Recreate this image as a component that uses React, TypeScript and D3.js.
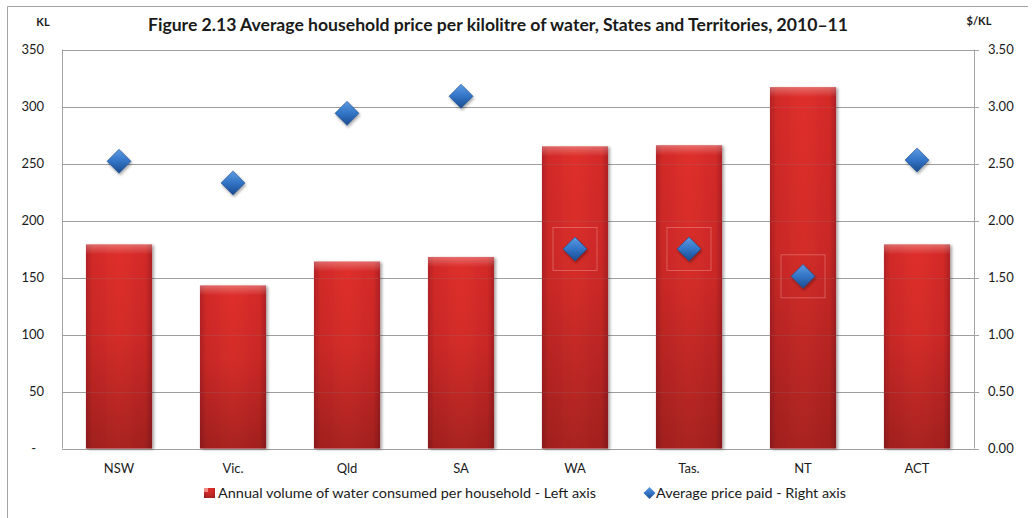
import React from 'react';
import * as d3 from 'd3';

const categories = ['NSW', 'Vic.', 'Qld', 'SA', 'WA', 'Tas.', 'NT', 'ACT'];
const volumeKL = [179, 143, 164, 168, 265, 266, 317, 179];
const pricePerKL = [2.52, 2.33, 2.94, 3.09, 1.75, 1.75, 1.51, 2.53];
const leftTicks = [0, 50, 100, 150, 200, 250, 300, 350];
const rightTicks = [0, 0.5, 1, 1.5, 2, 2.5, 3, 3.5];

const title = 'Figure 2.13 Average household price per kilolitre of water, States and Territories, 2010\u201311';
const legendBar = 'Annual volume of water consumed per household - Left axis';
const legendDot = 'Average price paid - Right axis';

const W = 1035;
const H = 518;
const plot = { left: 62, right: 974, top: 49.5, bottom: 448.5 };
const font = 'Lato, "Noto Sans", sans-serif';
const grid = '#a3a3a3';

export default function App() {
  const x = d3
    .scaleBand<string>()
    .domain(categories)
    .range([plot.left, plot.right])
    .paddingInner(0.42)
    .paddingOuter(0.21);
  const yL = d3.scaleLinear().domain([0, 350]).range([plot.bottom, plot.top]);
  const yR = d3.scaleLinear().domain([0, 3.5]).range([plot.bottom, plot.top]);
  const bw = x.bandwidth();
  const diamond = 12;

  const diamondPath = (cx: number, cy: number, r: number) =>
    `M${cx},${cy - r}L${cx + r},${cy}L${cx},${cy + r}L${cx - r},${cy}Z`;

  return (
    <svg width={W} height={H} style={{ position: 'absolute', left: 0, top: 0, background: '#fff' }}>
      <defs>
        <linearGradient id="barH" x1="0" x2="1" y1="0" y2="0">
          <stop offset="0%" stopColor="#b42226" />
          <stop offset="10%" stopColor="#d22a28" />
          <stop offset="50%" stopColor="#df2f2b" />
          <stop offset="90%" stopColor="#d32a28" />
          <stop offset="100%" stopColor="#ae2024" />
        </linearGradient>
        <linearGradient id="barV" x1="0" x2="0" y1="0" y2="1">
          <stop offset="0%" stopColor="#000" stopOpacity="0" />
          <stop offset="45%" stopColor="#000" stopOpacity="0.05" />
          <stop offset="100%" stopColor="#000" stopOpacity="0.24" />
        </linearGradient>
        <linearGradient id="barTop" x1="0" x2="0" y1="0" y2="1">
          <stop offset="0%" stopColor="#fff" stopOpacity="0.3" />
          <stop offset="100%" stopColor="#fff" stopOpacity="0" />
        </linearGradient>
        <linearGradient id="dia" x1="0" x2="0" y1="0" y2="1">
          <stop offset="0%" stopColor="#5d9be2" />
          <stop offset="50%" stopColor="#3274c6" />
          <stop offset="100%" stopColor="#1c4b8e" />
        </linearGradient>
        <filter id="shadow" x="-20%" y="-10%" width="140%" height="130%">
          <feDropShadow dx="2" dy="1" stdDeviation="1.8" floodColor="#000" floodOpacity="0.35" />
        </filter>
        <filter id="dshadow" x="-50%" y="-50%" width="200%" height="200%">
          <feDropShadow dx="1" dy="2" stdDeviation="1.5" floodColor="#000" floodOpacity="0.35" />
        </filter>
      </defs>

      {/* outer frame */}
      <line x1={7.5} x2={1028} y1={6.5} y2={6.5} stroke={grid} />
      <line x1={7.5} x2={7.5} y1={6.5} y2={H} stroke={grid} />

      <text x={148} y={31} fontFamily={font} fontWeight="bold" fontSize={16.5} fill="#1a1a1a"
        textLength={700} lengthAdjust="spacingAndGlyphs">{title}</text>
      <text x={43} y={26} textAnchor="middle" fontFamily={font} fontWeight="bold" fontSize={11} fill="#1a1a1a">KL</text>
      <text x={979} y={25} textAnchor="middle" fontFamily={font} fontWeight="bold" fontSize={11} fill="#1a1a1a">$/KL</text>

      {/* gridlines */}
      {leftTicks.map((t) => (
        <line key={t} x1={plot.left} x2={plot.right} y1={Math.round(yL(t)) + 0.5} y2={Math.round(yL(t)) + 0.5}
          stroke={grid} strokeWidth={1} />
      ))}
      <line x1={plot.left + 0.5} x2={plot.left + 0.5} y1={plot.top} y2={plot.bottom} stroke={grid} />
      <line x1={plot.right + 0.5} x2={plot.right + 0.5} y1={plot.top} y2={plot.bottom} stroke={grid} />
      {rightTicks.map((t) => (
        <line key={t} x1={plot.right} x2={plot.right + 5} y1={Math.round(yR(t)) + 0.5} y2={Math.round(yR(t)) + 0.5}
          stroke={grid} />
      ))}

      {/* left axis labels */}
      {leftTicks.map((t) => (
        <text key={t} x={t === 0 ? 36 : 44} y={yL(t) + 4.5} textAnchor="end" fontFamily={font} fontSize={13} fill="#1a1a1a">
          {t === 0 ? '-' : d3.format('d')(t)}
        </text>
      ))}
      {/* right axis labels */}
      {rightTicks.map((t) => (
        <text key={t} x={988} y={yR(t) + 4.5} textAnchor="start" fontFamily={font} fontSize={13} fill="#1a1a1a">
          {d3.format('.2f')(t)}
        </text>
      ))}

      {/* bars */}
      {categories.map((c, i) => {
        const bx = x(c) as number;
        const by = yL(volumeKL[i]);
        const bh = plot.bottom - by;
        return (
          <g key={c}>
            <rect x={bx} y={by} width={bw} height={bh} fill="url(#barH)" filter="url(#shadow)" />
            <rect x={bx} y={by} width={bw} height={bh} fill="url(#barV)" />
            <rect x={bx} y={by} width={bw} height={10} fill="url(#barTop)" />
          </g>
        );
      })}
      {/* faint gridlines showing through bars */}
      {leftTicks.map((t) => (
        <line key={t} x1={plot.left} x2={plot.right} y1={Math.round(yL(t)) + 0.5} y2={Math.round(yL(t)) + 0.5}
          stroke="#888" strokeOpacity={0.18} />
      ))}

      {/* price markers */}
      {categories.map((c, i) => {
        const cx = (x(c) as number) + bw / 2;
        const cy = yR(pricePerKL[i]);
        const insideBar = cy > yL(volumeKL[i]);
        return (
          <g key={c}>
            {insideBar && (
              <rect x={cx - 22} y={cy - 21.5} width={44} height={43} fill="none" stroke="#f2a4a0"
                strokeOpacity={0.7} strokeWidth={0.6} />
            )}
            <path d={diamondPath(cx, cy, diamond)} fill="url(#dia)" stroke="#1d4a88" strokeWidth={0.6}
              filter="url(#dshadow)" />
          </g>
        );
      })}

      {/* category labels */}
      {categories.map((c) => (
        <text key={c} x={(x(c) as number) + bw / 2} y={473} textAnchor="middle" fontFamily={font} fontSize={13} fill="#1a1a1a">
          {c}
        </text>
      ))}

      {/* legend */}
      <g>
        <rect x={204} y={488} width={11} height={10} fill="url(#barH)" />
        <rect x={204} y={488} width={11} height={10} fill="url(#barV)" />
        <rect x={204} y={488} width={4} height={4} fill="#f08a84" />
        <text x={218} y={497.5} fontFamily={font} fontSize={13} fill="#1a1a1a" textLength={378} lengthAdjust="spacingAndGlyphs">
          {legendBar}
        </text>
        <path d={diamondPath(649.5, 493, 6)} fill="url(#dia)" />
        <text x={656} y={497.5} fontFamily={font} fontSize={13} fill="#1a1a1a" textLength={190} lengthAdjust="spacingAndGlyphs">
          {legendDot}
        </text>
      </g>
    </svg>
  );
}
